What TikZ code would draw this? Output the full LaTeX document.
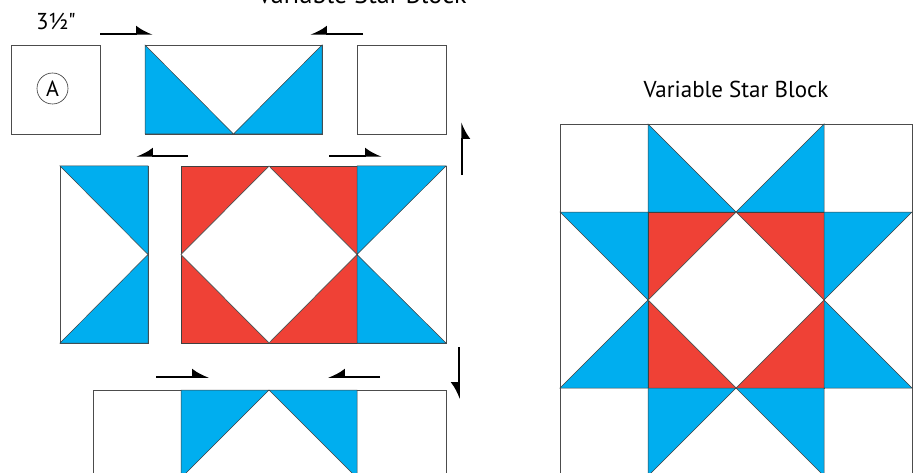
\documentclass[tikz,border=0pt]{standalone}
\usepackage{fontspec}
\setmainfont{PT Sans}[Ligatures=TeXOff]
\usepackage{xcolor}
\usetikzlibrary{arrows.meta}
\definecolor{starblue}{HTML}{00AEEF}
\definecolor{starred}{HTML}{EF4136}

\begin{document}
\begin{tikzpicture}[x=1pt,y=-1pt,
  patch/.style={draw=black!70,line width=0.7pt,fill=white},
  bluetri/.style={draw=black!75,line width=0.5pt,fill=starblue},
  redtri/.style={draw=black!75,line width=0.5pt,fill=starred},
  press/.style={-{Latex[harpoon,length=15pt,width=17pt]},line width=1.5pt},
  presssw/.style={-{Latex[harpoon,swap,length=15pt,width=17pt]},line width=1.5pt},
  caption/.style={anchor=base,inner sep=0pt,font=\fontsize{23}{27}\selectfont}
]
\useasboundingbox (0,0) rectangle (917,473);

% titles and size
\node[caption,font=\fontsize{26}{30}\selectfont] (title) at (362,4) {Variable Star Block};
\node[caption] (blocktitle) at (736,98) {Variable Star Block};
\node[caption] (size) at (56,30) {3½"};

% top row
\draw[patch] (11,45) rectangle (100,134);
\node[circle,draw=black!80,line width=0.6pt,minimum size=31pt,inner sep=0pt,
      font=\fontsize{22}{26}\selectfont] (pieceA) at (52.5,88.5) {A};
\draw[patch] (145,45) rectangle (322,134);
\draw[bluetri] (145,45) -- (145,134) -- (233.5,134) -- cycle;
\draw[bluetri] (322,45) -- (322,134) -- (233.5,134) -- cycle;
\draw[patch] (357,45) rectangle (446,134);

% middle row
\draw[patch] (60,166) rectangle (148,343);
\draw[bluetri] (60,166) -- (148,166) -- (148,254.5) -- cycle;
\draw[bluetri] (60,343) -- (148,343) -- (148,254.5) -- cycle;
\draw[redtri] (181,166) rectangle (357,343);
\draw[patch] (269,166) -- (357,254.5) -- (269,343) -- (181,254.5) -- cycle;
\draw[patch] (357,166) rectangle (446,343);
\draw[bluetri] (357,166) -- (446,166) -- (357,254.5) -- cycle;
\draw[bluetri] (357,343) -- (446,343) -- (357,254.5) -- cycle;

% bottom row
\draw[patch] (93,390) rectangle (446,478);
\draw[bluetri] (181,390) -- (269,390) -- (181,478) -- cycle;
\draw[bluetri] (269,390) -- (357,390) -- (357,478) -- cycle;

% pressing arrows
\draw[press] (100,34) -- (153,34);
\draw[presssw] (363,34) -- (310,34);
\draw[presssw] (188,156) -- (136,156);
\draw[press] (329,156) -- (382,156);
\draw[presssw] (462,175) -- (462,122);
\draw[presssw] (459,347) -- (459,399);
\draw[press] (156,377) -- (209,377);
\draw[presssw] (380,377) -- (328,377);

% finished block
\draw[patch] (560,124) rectangle (912,476);
\draw[bluetri] (648,124) -- (648,212) -- (736,212) -- cycle;
\draw[bluetri] (824,124) -- (824,212) -- (736,212) -- cycle;
\draw[bluetri] (560,212) -- (648,212) -- (648,300) -- cycle;
\draw[bluetri] (560,388) -- (648,388) -- (648,300) -- cycle;
\draw[redtri] (648,212) rectangle (824,388);
\draw[patch] (736,212) -- (824,300) -- (736,388) -- (648,300) -- cycle;
\draw[bluetri] (824,212) -- (912,212) -- (824,300) -- cycle;
\draw[bluetri] (824,388) -- (912,388) -- (824,300) -- cycle;
\draw[bluetri] (648,388) -- (736,388) -- (648,476) -- cycle;
\draw[bluetri] (736,388) -- (824,388) -- (824,476) -- cycle;
\end{tikzpicture}
\end{document}
